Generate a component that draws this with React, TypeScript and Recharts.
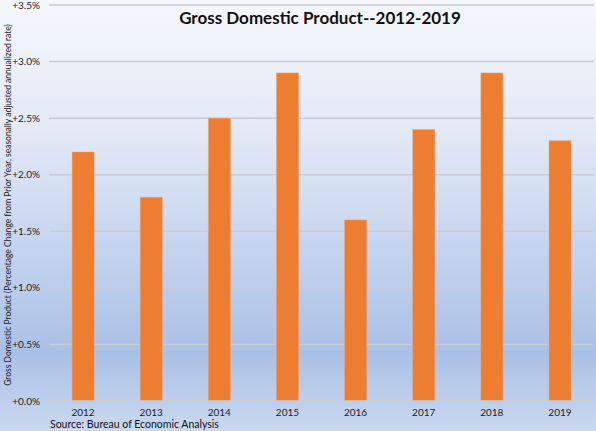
import React from 'react';
import { BarChart, Bar, XAxis, YAxis, CartesianGrid } from 'recharts';

const YEARS = ['2012', '2013', '2014', '2015', '2016', '2017', '2018', '2019'];
const GDP_GROWTH = [2.2, 1.8, 2.5, 2.9, 1.6, 2.4, 2.9, 2.3];
const Y_TICKS = [0, 0.5, 1, 1.5, 2, 2.5, 3, 3.5];

const FONT = 'Lato, "Open Sans", sans-serif';

const data = YEARS.map((year, i) => ({ year, gdp: GDP_GROWTH[i] }));

export default function App() {
  return (
    <div
      style={{
        position: 'absolute',
        left: 0,
        top: 0,
        width: 596,
        height: 431,
        fontFamily: FONT,
        background:
          'linear-gradient(to bottom, #f5f7fc 0%, #e3eaf6 30%, #c2d2ed 60%, #a9c0e6 82%, #cbd9f0 100%)',
      }}
    >
      <BarChart
        width={596}
        height={431}
        data={data}
        margin={{ top: 5, right: 2, bottom: 0, left: 0 }}
        barCategoryGap="34%"
      >
        <CartesianGrid vertical={false} stroke="#c9ccd3" strokeWidth={1.5} />
        <XAxis
          dataKey="year"
          height={30}
          tickLine={false}
          axisLine={{ stroke: '#c9ccd3', strokeWidth: 1.5 }}
          tickSize={0}
          tickMargin={8}
          tick={{ fill: '#222', fontSize: 10, fontFamily: FONT }}
        />
        <YAxis
          width={49}
          domain={[0, 3.5]}
          ticks={Y_TICKS}
          tickLine={false}
          axisLine={false}
          tickSize={0}
          tickMargin={9}
          tickFormatter={(v: number) => `+${v.toFixed(1)}%`}
          tick={{ fill: '#222', fontSize: 10, fontFamily: FONT }}
          label={{
            value:
              'Gross Domestic Product (Percentage Change from Prior Year, seasonally adjusted annualized rate)',
            angle: -90,
            position: 'insideLeft',
            offset: 0,
            dx: 8,
            dy: 2,
            style: { fontSize: 8.5, fill: '#222', fontFamily: FONT, textAnchor: 'middle' },
          }}
        />
        <Bar dataKey="gdp" fill="#ed7d31" stroke="#f29a5c" strokeWidth={0.5} isAnimationActive={false} />
      </BarChart>
      <div
        style={{
          position: 'absolute',
          left: 0,
          width: 640,
          top: 7,
          textAlign: 'center',
          fontSize: 17,
          fontWeight: 700,
          color: '#111',
        }}
      >
        Gross Domestic Product--2012-2019
      </div>
      <div
        style={{
          position: 'absolute',
          left: 50,
          top: 419,
          fontSize: 10.5,
          lineHeight: '11px',
          color: '#111',
        }}
      >
        Source: Bureau of Economic Analysis
      </div>
    </div>
  );
}
